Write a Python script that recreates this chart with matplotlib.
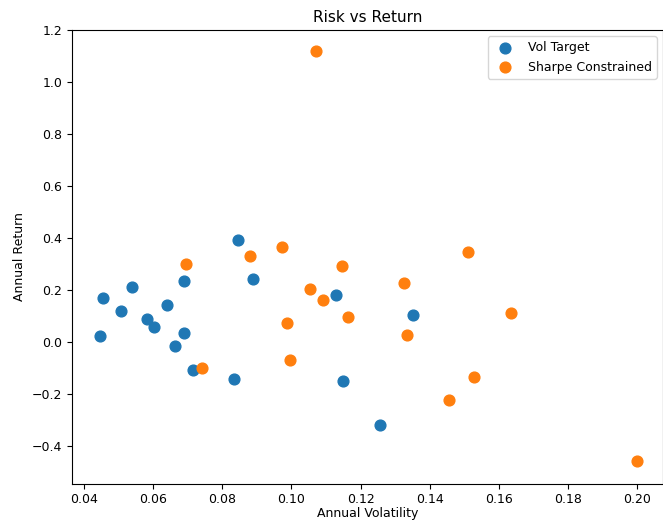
import matplotlib
matplotlib.use("Agg")
import matplotlib.pyplot as plt

vol_target_vol = [0.0446, 0.0455, 0.0508, 0.0538, 0.0583, 0.0602, 0.0639, 0.0663, 0.0690,
                  0.0690, 0.0716, 0.0833, 0.0844, 0.0889, 0.1130, 0.1150, 0.1257, 0.1352]
vol_target_ret = [0.022, 0.169, 0.119, 0.214, 0.088, 0.057, 0.143, -0.013, 0.236,
                  0.036, -0.108, -0.143, 0.392, 0.244, 0.183, -0.151, -0.319, 0.103]

sharpe_vol = [0.0696, 0.0742, 0.0881, 0.0974, 0.0986, 0.0996, 0.1054, 0.1070, 0.1090,
              0.1146, 0.1163, 0.1327, 0.1335, 0.1455, 0.1510, 0.1527, 0.1635, 0.1999]
sharpe_ret = [0.299, -0.099, 0.330, 0.367, 0.075, -0.070, 0.205, 1.120, 0.161,
              0.294, 0.097, 0.227, 0.026, -0.222, 0.348, -0.134, 0.112, -0.458]

plt.rcParams["font.size"] = 9

W, H = 663, 522
fig = plt.figure(figsize=(W / 100, H / 100), dpi=100)
left, right, top, bottom = 72, 663, 30, 484
ax = fig.add_axes([left / W, 1 - bottom / H, (right - left) / W, (bottom - top) / H])

ax.scatter(vol_target_vol, vol_target_ret, s=60, color="#1f77b4", label="Vol Target")
ax.scatter(sharpe_vol, sharpe_ret, s=60, color="#ff7f0e", label="Sharpe Constrained")

ax.set_ylim(-0.545, 1.2)
ax.set_xlim(0.0365, 0.2075)
ax.tick_params(labelsize=9)
ax.tick_params(axis="x", pad=3)
ax.set_title("Risk vs Return", fontsize=11)
ax.set_xlabel("Annual Volatility", fontsize=9, labelpad=1)
ax.set_ylabel("Annual Return", fontsize=9)
ax.legend(loc="upper right", fontsize=9)

fig.savefig("out.png", dpi=100)
